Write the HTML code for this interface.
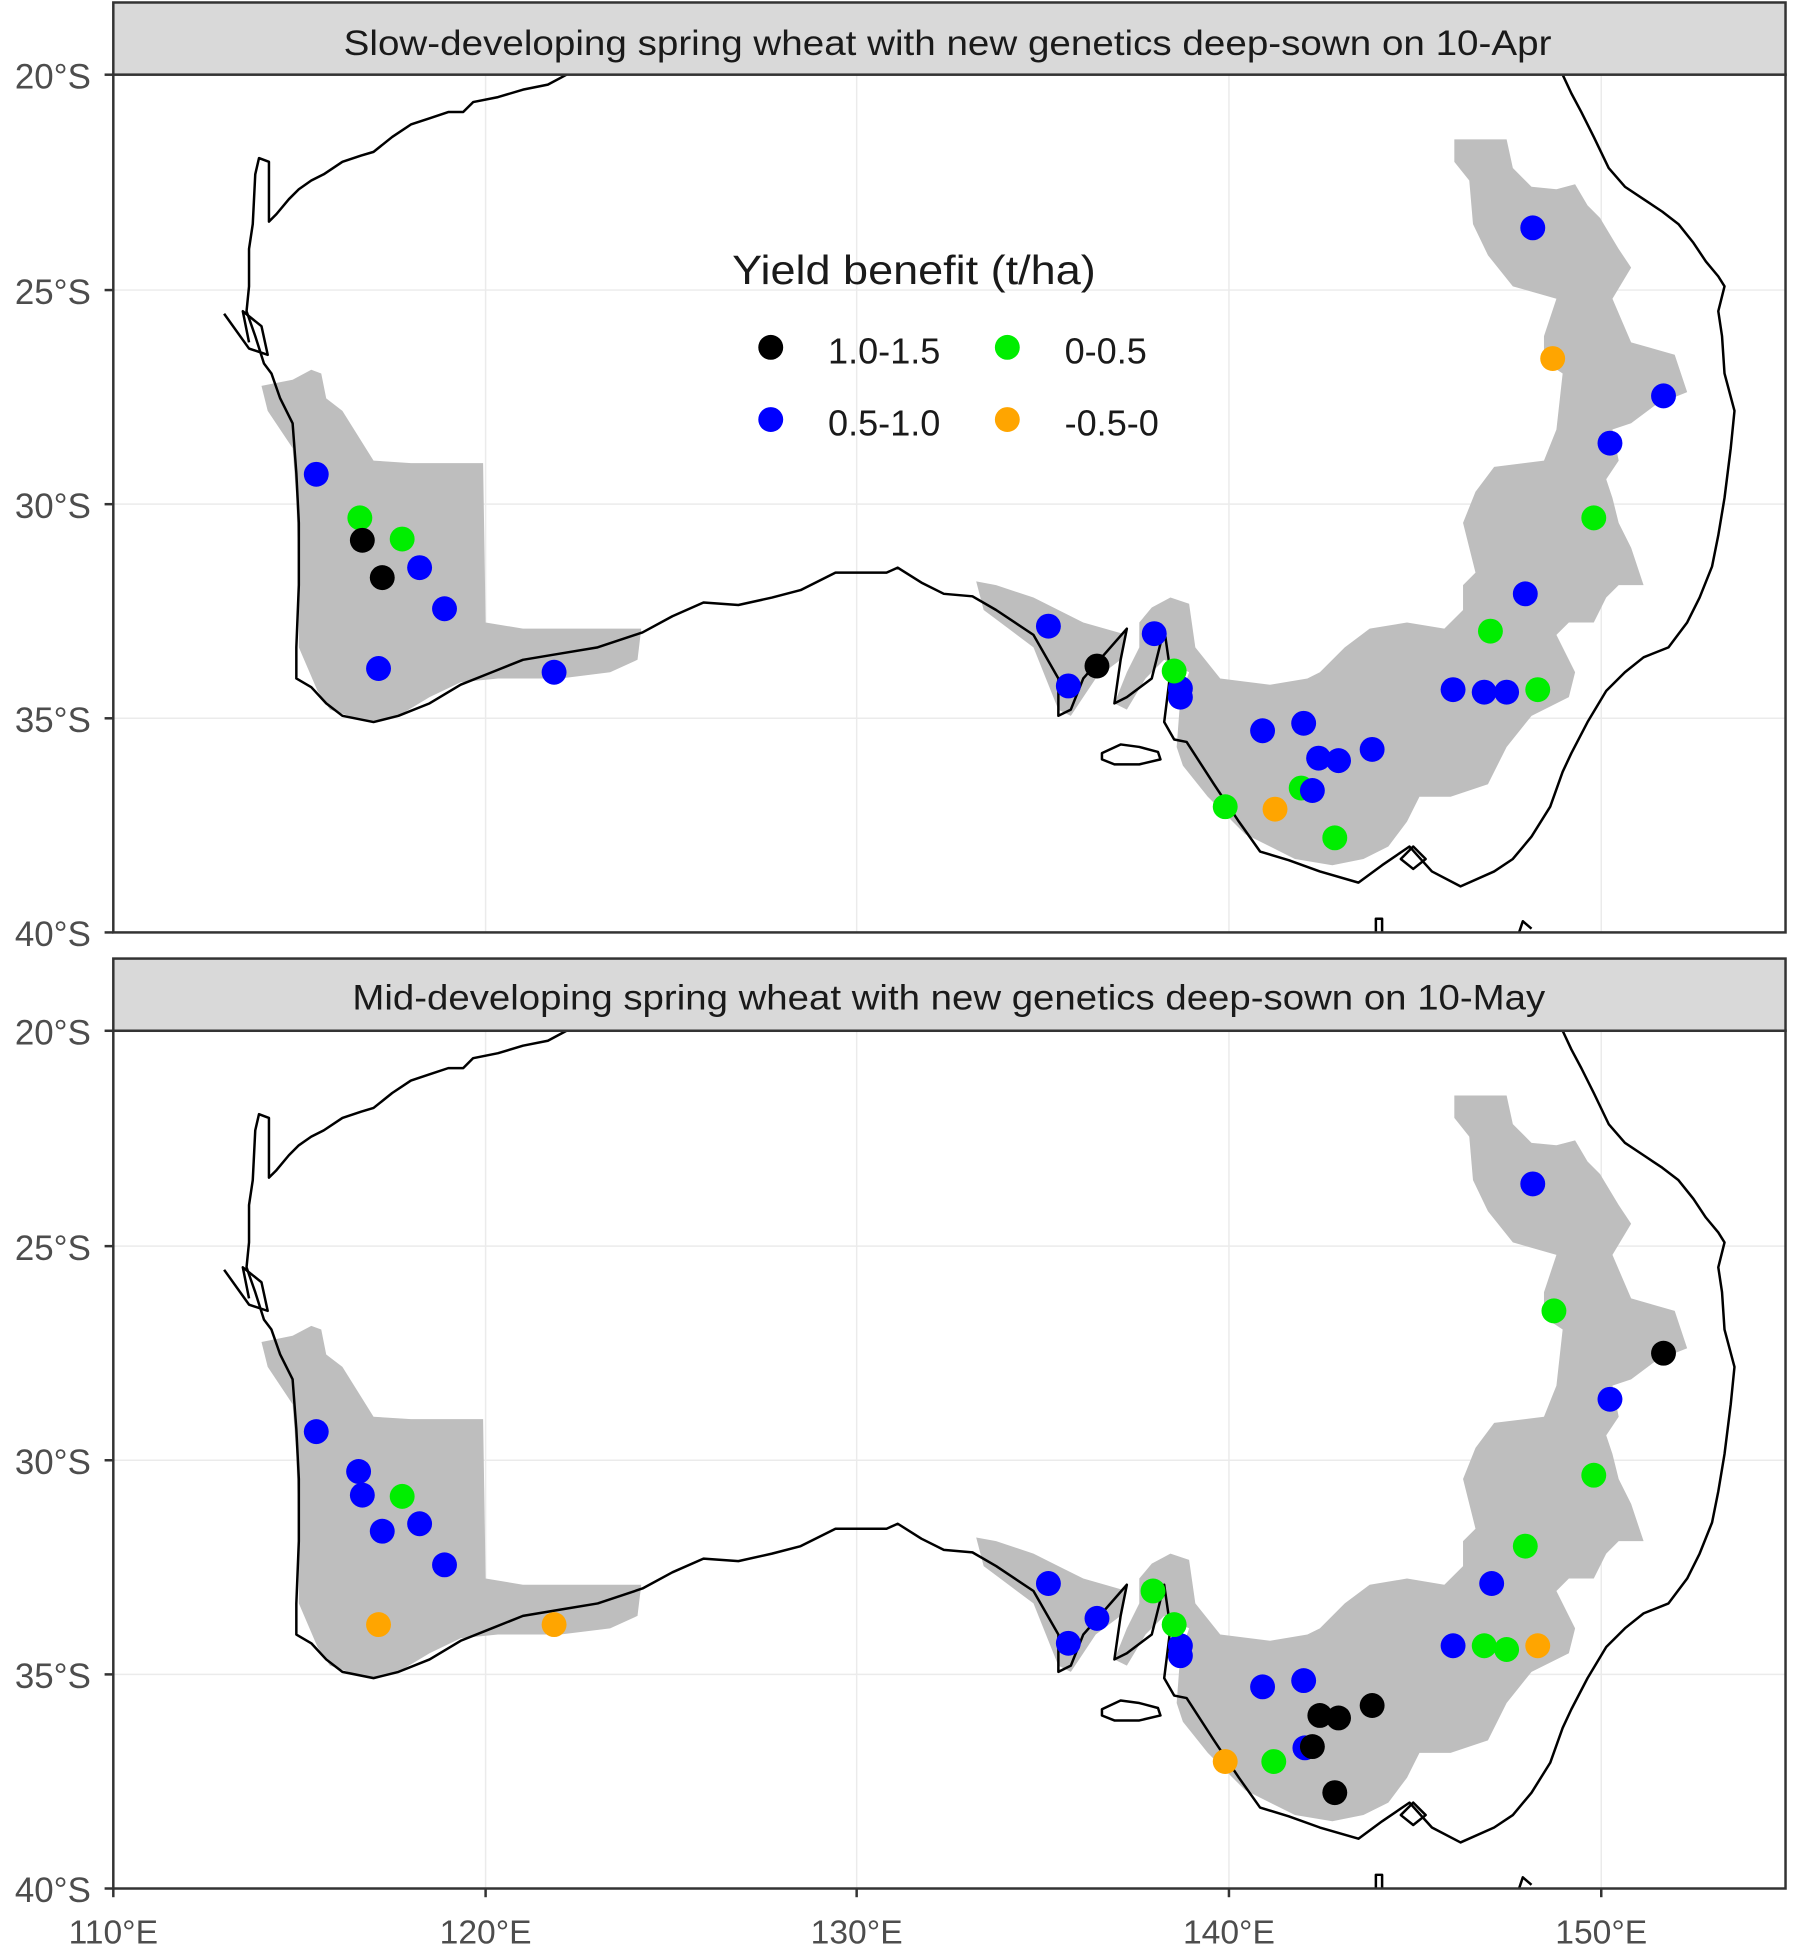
<!DOCTYPE html>
<html><head><meta charset="utf-8"><style>html,body{margin:0;padding:0;background:#fff}svg{display:block}</style></head>
<body>
<svg width="1793" height="1952" viewBox="0 0 1440 1568" preserveAspectRatio="none" xmlns="http://www.w3.org/2000/svg" font-family="Liberation Sans, Arial, sans-serif">
<defs>
<g id="map">
<rect x="91" y="60" width="1343" height="689" fill="#fff"/>
<g stroke="#ebebeb" stroke-width="1.2">
<line x1="91" y1="233" x2="1434" y2="233"/><line x1="91" y1="405" x2="1434" y2="405"/><line x1="91" y1="577" x2="1434" y2="577"/>
<line x1="390" y1="60" x2="390" y2="749"/><line x1="688" y1="60" x2="688" y2="749"/><line x1="987" y1="60" x2="987" y2="749"/><line x1="1286" y1="60" x2="1286" y2="749"/>
</g>
<g fill="#bebebe">
<polygon points="210,310 235,305 250,297 258,300 262,320 275,330 300,370 330,372 388,372 390,500 420,505 470,505 515,505 512,530 490,540 450,545 400,545 370,548 345,560 320,575 295,580 265,570 255,555 240,520 240,470 238,400 235,360 215,330"/>
<polygon points="784,467 800,470 830,480 850,490 870,500 905,510 900,530 880,545 870,560 860,575 850,570 840,545 830,520 810,505 790,490"/>
<polygon points="1168,112 1210,112 1215,135 1230,150 1250,152 1265,148 1275,165 1285,175 1300,200 1310,215 1295,240 1310,275 1345,285 1355,315 1330,325 1310,340 1295,345 1300,370 1290,385 1295,400 1300,420 1310,440 1320,470 1300,470 1290,480 1280,500 1260,500 1250,510 1265,540 1260,560 1230,575 1210,600 1195,630 1165,640 1140,640 1130,660 1115,680 1095,690 1070,695 1040,690 1020,680 1000,670 985,655 970,640 950,615 945,600 948,560 955,540 935,530 920,545 905,570 895,565 905,540 915,520 915,500 925,488 940,480 955,485 960,520 980,545 1020,550 1050,545 1060,540 1080,520 1100,505 1130,500 1160,505 1175,490 1175,470 1185,460 1175,420 1185,395 1200,375 1240,370 1250,345 1255,300 1240,290 1240,270 1250,240 1215,230 1195,205 1183,180 1180,145 1168,130"/>
</g>
<g fill="none" stroke="#000" stroke-width="2" stroke-linejoin="round">
<polyline points="455,60 440,68 420,72 400,78 380,82 372,90 360,90 345,95 330,100 315,110 300,122 290,125 275,130 260,140 250,145 240,152 232,160 222,172 216,178 216,130 208,127 205,140 203,180 200,200 200,230 198,250 205,270 212,292 218,300 225,320 235,340 238,380 240,420 240,470 238,520 238,545 250,552 262,565 275,575 300,580 320,575 345,565 370,550 395,540 420,530 450,525 480,520 516,508 540,495 565,484 593,486 620,480 643,474 671,460 712,460 721,456 740,468 758,477 781,479 800,490 830,510 850,545 850,575 860,570 870,545 905,505 900,530 895,565 905,560 925,545 935,505 940,540 935,580 943,594 953,596 975,630 995,660 1012,684 1035,691 1060,700 1091,709 1110,695 1132,680 1150,700 1173,712 1200,700 1215,690 1230,672 1245,648 1255,620 1262,605 1275,580 1290,555 1305,540 1320,528 1340,520 1355,500 1365,480 1375,455 1380,430 1385,400 1390,360 1393,330 1385,300 1383,270 1380,250 1385,230 1380,222 1370,210 1360,195 1348,180 1335,170 1320,160 1305,150 1292,135 1280,110 1270,90 1262,75 1255,60"/>
<polyline points="180,252 200,280 215,285 210,262 195,250 200,275"/>
<path d="M885,605 L900,598 L915,600 L930,604 L932,610 L915,614 L895,614 L885,610 Z"/>
<path d="M1125,690 L1135,680 L1145,690 L1135,698 Z"/>
<path d="M1105,749 L1105,738 L1110,738 L1110,749"/>
<path d="M1220,749 L1223,740 L1230,746"/>
</g>
<rect x="91" y="60" width="1343" height="689" fill="none" stroke="#333" stroke-width="2"/>
</g>
</defs>

<rect x="91" y="2" width="1343" height="58" fill="#d9d9d9" stroke="#333" stroke-width="2"/>
<text x="276" y="44" font-size="28" textLength="970" lengthAdjust="spacingAndGlyphs" fill="#1a1a1a">Slow-developing spring wheat with new genetics deep-sown on 10-Apr</text>
<use href="#map"/>
<rect x="91" y="770" width="1343" height="58" fill="#d9d9d9" stroke="#333" stroke-width="2"/>
<text x="283" y="811" font-size="28" textLength="958" lengthAdjust="spacingAndGlyphs" fill="#1a1a1a">Mid-developing spring wheat with new genetics deep-sown on 10-May</text>
<use href="#map" transform="translate(0,768)"/>

<g font-size="28" fill="#4d4d4d" text-anchor="end">
<text x="73" y="71">20°S</text><text x="73" y="244">25°S</text><text x="73" y="416">30°S</text><text x="73" y="588">35°S</text><text x="73" y="760">40°S</text>
<text x="73" y="839">20°S</text><text x="73" y="1012">25°S</text><text x="73" y="1184">30°S</text><text x="73" y="1356">35°S</text><text x="73" y="1528">40°S</text>
</g>
<g stroke="#333" stroke-width="2">
<line x1="84" y1="60" x2="91" y2="60"/><line x1="84" y1="233" x2="91" y2="233"/><line x1="84" y1="405" x2="91" y2="405"/><line x1="84" y1="577" x2="91" y2="577"/><line x1="84" y1="749" x2="91" y2="749"/>
<line x1="84" y1="828" x2="91" y2="828"/><line x1="84" y1="1001" x2="91" y2="1001"/><line x1="84" y1="1173" x2="91" y2="1173"/><line x1="84" y1="1345" x2="91" y2="1345"/><line x1="84" y1="1517" x2="91" y2="1517"/>
<line x1="91" y1="1517" x2="91" y2="1524"/><line x1="390" y1="1517" x2="390" y2="1524"/><line x1="688" y1="1517" x2="688" y2="1524"/><line x1="987" y1="1517" x2="987" y2="1524"/><line x1="1286" y1="1517" x2="1286" y2="1524"/>
</g>
<g font-size="27" fill="#4d4d4d" text-anchor="middle">
<text x="91" y="1561">110°E</text><text x="390" y="1561">120°E</text><text x="688" y="1561">130°E</text><text x="987" y="1561">140°E</text><text x="1286" y="1561">150°E</text>
</g>

<text x="588" y="228" font-size="33" textLength="292" lengthAdjust="spacingAndGlyphs" fill="#1a1a1a">Yield benefit (t/ha)</text>
<circle cx="619" cy="279" r="10" fill="#000"/><text x="665" y="292" font-size="29" fill="#1a1a1a">1.0-1.5</text>
<circle cx="809" cy="279" r="10" fill="#00ee00"/><text x="855" y="292" font-size="29" fill="#1a1a1a">0-0.5</text>
<circle cx="619" cy="337" r="10" fill="#0000ff"/><text x="665" y="350" font-size="29" fill="#1a1a1a">0.5-1.0</text>
<circle cx="809" cy="337" r="10" fill="#ffa500"/><text x="855" y="350" font-size="29" fill="#1a1a1a">-0.5-0</text>

<g fill="#0000ff">
<circle cx="254" cy="381" r="10"/><circle cx="337" cy="456" r="10"/><circle cx="357" cy="489" r="10"/><circle cx="304" cy="537" r="10"/><circle cx="445" cy="540" r="10"/><circle cx="1231" cy="183" r="10"/><circle cx="1336" cy="318" r="10"/><circle cx="1293" cy="356" r="10"/><circle cx="1225" cy="477" r="10"/><circle cx="842" cy="503" r="10"/><circle cx="858" cy="551" r="10"/><circle cx="927" cy="509" r="10"/><circle cx="948" cy="553" r="10"/><circle cx="948" cy="560" r="10"/><circle cx="1014" cy="587" r="10"/><circle cx="1047" cy="581" r="10"/><circle cx="1059" cy="609" r="10"/><circle cx="1075" cy="611" r="10"/><circle cx="1102" cy="602" r="10"/><circle cx="1167" cy="554" r="10"/><circle cx="1192" cy="556" r="10"/><circle cx="1210" cy="556" r="10"/>
</g>
<g fill="#00ee00">
<circle cx="289" cy="416" r="10"/><circle cx="323" cy="433" r="10"/><circle cx="1280" cy="416" r="10"/><circle cx="1197" cy="507" r="10"/><circle cx="943" cy="539" r="10"/><circle cx="1235" cy="554" r="10"/><circle cx="984" cy="648" r="10"/><circle cx="1045" cy="633" r="10"/><circle cx="1072" cy="673" r="10"/>
</g>
<circle cx="1054" cy="635" r="10" fill="#0000ff"/>
<g fill="#000"><circle cx="291" cy="434" r="10"/><circle cx="307" cy="464" r="10"/><circle cx="881" cy="535" r="10"/></g>
<g fill="#ffa500"><circle cx="1247" cy="288" r="10"/><circle cx="1024" cy="650" r="10"/></g>

<g fill="#0000ff">
<circle cx="254" cy="1150" r="10"/><circle cx="288" cy="1182" r="10"/><circle cx="291" cy="1201" r="10"/><circle cx="307" cy="1230" r="10"/><circle cx="337" cy="1224" r="10"/><circle cx="357" cy="1257" r="10"/><circle cx="1231" cy="951" r="10"/><circle cx="1293" cy="1124" r="10"/><circle cx="1198" cy="1272" r="10"/><circle cx="842" cy="1272" r="10"/><circle cx="881" cy="1300" r="10"/><circle cx="858" cy="1320" r="10"/><circle cx="948" cy="1322" r="10"/><circle cx="948" cy="1330" r="10"/><circle cx="1014" cy="1355" r="10"/><circle cx="1047" cy="1350" r="10"/><circle cx="1167" cy="1322" r="10"/><circle cx="1048" cy="1404" r="10"/>
</g>
<g fill="#00ee00">
<circle cx="323" cy="1202" r="10"/><circle cx="1248" cy="1053" r="10"/><circle cx="1280" cy="1185" r="10"/><circle cx="1225" cy="1242" r="10"/><circle cx="926" cy="1278" r="10"/><circle cx="943" cy="1305" r="10"/><circle cx="1192" cy="1322" r="10"/><circle cx="1210" cy="1325" r="10"/><circle cx="1023" cy="1415" r="10"/>
</g>
<g fill="#000">
<circle cx="1336" cy="1087" r="10"/><circle cx="1060" cy="1378" r="10"/><circle cx="1075" cy="1380" r="10"/><circle cx="1102" cy="1370" r="10"/><circle cx="1054" cy="1403" r="10"/><circle cx="1072" cy="1440" r="10"/>
</g>
<g fill="#ffa500">
<circle cx="304" cy="1305" r="10"/><circle cx="445" cy="1305" r="10"/><circle cx="1235" cy="1322" r="10"/><circle cx="984" cy="1415" r="10"/>
</g>
</svg>
</body></html>
